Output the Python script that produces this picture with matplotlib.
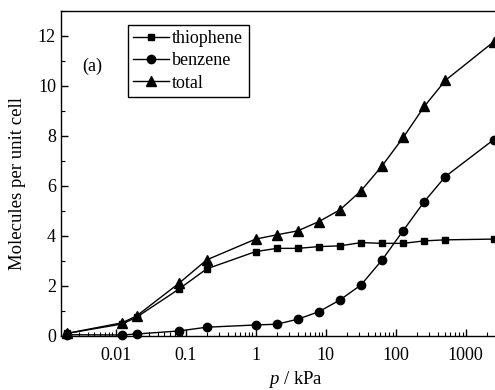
import matplotlib
matplotlib.use("Agg")
import matplotlib.pyplot as plt
from matplotlib.ticker import LogLocator, NullFormatter, MultipleLocator

# pressure in kPa
pressure = [0.002, 0.0125, 0.02, 0.08, 0.2, 1, 2, 4, 8, 16, 32, 64, 128, 256, 512, 2500]
thiophene = [0.10, 0.48, 0.75, 1.87, 2.68, 3.37, 3.50, 3.50, 3.57, 3.60, 3.73, 3.70, 3.70, 3.80, 3.84, 3.87]
benzene = [0.05, 0.04, 0.08, 0.20, 0.35, 0.44, 0.47, 0.67, 0.97, 1.44, 2.04, 3.04, 4.21, 5.37, 6.37, 7.84]
total = [0.10, 0.53, 0.80, 2.10, 3.04, 3.87, 4.04, 4.20, 4.57, 5.04, 5.80, 6.80, 7.93, 9.17, 10.21, 11.75]

plt.rcParams["font.family"] = ["Liberation Serif", "DejaVu Serif"]
plt.rcParams["mathtext.fontset"] = "custom"
plt.rcParams["mathtext.it"] = "Liberation Serif:italic"

fig = plt.figure(figsize=(4.95, 3.9), dpi=100)
ax = fig.add_axes([0.123, 0.1385, 0.879, 0.8345])

style = dict(color="black", lw=1.0, clip_on=False)
ax.plot(pressure, thiophene, marker="s", ms=5, label="thiophene", **style)
ax.plot(pressure, benzene, marker="o", ms=6, label="benzene", **style)
ax.plot(pressure, total, marker="^", ms=6.5, label="total", **style)

ax.set_xscale("log")
ax.set_xlim(0.00166, 2700)
ax.set_ylim(0, 13)

ax.xaxis.set_minor_locator(LogLocator(base=10, subs=range(2, 10), numticks=12))
ax.xaxis.set_minor_formatter(NullFormatter())
ax.set_xticks([0.01, 0.1, 1, 10, 100, 1000])
ax.set_xticklabels(["0.01", "0.1", "1", "10", "100", "1000"])
ax.yaxis.set_major_locator(MultipleLocator(2))
ax.yaxis.set_minor_locator(MultipleLocator(1))

ax.tick_params(which="both", direction="in", top=False, right=False, labelsize=13)
ax.tick_params(which="major", length=5, width=1)
ax.tick_params(which="minor", length=3, width=0.8)
ax.tick_params(axis="x", pad=8)
for s in ax.spines.values():
    s.set_linewidth(1.0)

ax.set_xlabel("$p$ / kPa", fontsize=13.5, va="baseline")
ax.xaxis.set_label_coords(0.54, -0.148)
ax.set_ylabel("Molecules per unit cell", fontsize=13.5)
ax.yaxis.set_label_coords(-0.08, 0.47)

ax.text(0.05, 0.83, "(a)", transform=ax.transAxes, fontsize=13, ha="left", va="center")

leg = ax.legend(loc="upper left", bbox_to_anchor=(0.154, 0.957), fontsize=13,
                frameon=True, fancybox=False, edgecolor="black", framealpha=1,
                handlelength=2.0, handletextpad=0.15, borderpad=0.3,
                labelspacing=0.3, borderaxespad=0, handleheight=0.7)
leg.get_frame().set_linewidth(1.0)

fig.savefig("out.png", dpi=100)
